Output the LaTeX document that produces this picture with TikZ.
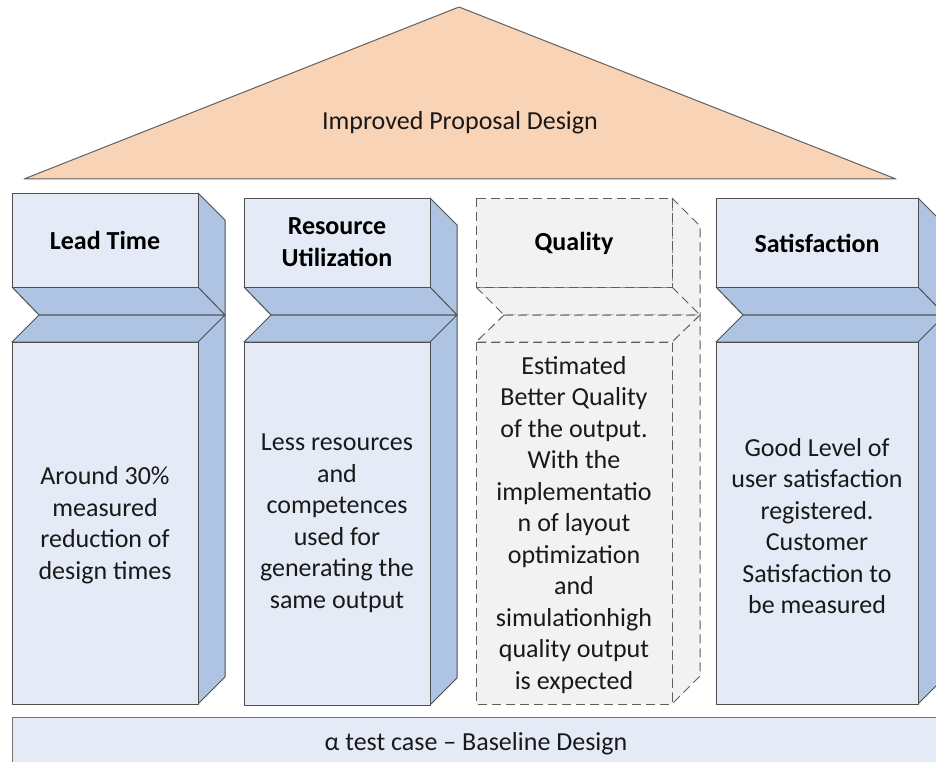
\documentclass[tikz,border=0pt]{standalone}
\usepackage{fontspec}
\setmainfont{Carlito}
\definecolor{frontc}{HTML}{E4EBF6}
\definecolor{sidec}{HTML}{AFC3E2}
\definecolor{edgec}{HTML}{4F4F4F}
\definecolor{greyc}{HTML}{F2F2F2}
\definecolor{dashc}{HTML}{5E5E5E}
\definecolor{roofc}{HTML}{F9D3B6}
\tikzset{
  front/.style={fill=frontc,draw=edgec,line width=1pt,line join=round},
  side/.style={fill=sidec,draw=edgec,line width=1pt,line join=round},
  qfront/.style={fill=greyc,draw=dashc,line width=1pt,dash pattern=on 9pt off 5pt,line join=round},
  qside/.style={fill=greyc,draw=dashc,line width=1pt,dash pattern=on 9pt off 5pt,line join=round},
  txt/.style={align=center,font=\fontsize{26}{31.5}\selectfont,text=black!90,inner sep=0pt},
  head/.style={align=center,font=\fontsize{26}{31.5}\selectfont\bfseries,text=black,inner sep=0pt},
}
% pillar macro: #1 L, #2 R, #3 T, #4 B, #5 d, #6 front style, #7 side style
\newcommand{\mypillar}[7]{%
  \path[#7] (#2,#3) -- (#2+#5,#3+#5) -- (#2+#5,#4-#5) -- (#2,#4) -- cycle;
  \path[#7] (#1,287) -- (#2,287) -- (#2+#5,315) -- (#1+#5,315) -- cycle;
  \path[#7] (#1+#5,315) -- (#2+#5,315) -- (#2,342) -- (#1,342) -- cycle;
  \path[#6] (#1,#3) rectangle (#2,287);
  \path[#6] (#1,342) rectangle (#2,#4);
}
\begin{document}
\begin{tikzpicture}[x=1pt,y=-1pt]
\useasboundingbox (0,0) rectangle (936,762);
\clip (0,0) rectangle (936,762);
% roof
\path[fill=roofc,draw=edgec!90,line width=1pt,line join=round] (24,179) -- (459,7) -- (896,179) -- cycle;
\node[txt] (roof) at (460,123) {Improved Proposal Design};
% pillars
\mypillar{12}{198}{193}{704}{27}{front}{side}
\mypillar{244}{430}{198}{705}{27}{front}{side}
\mypillar{476}{672}{198}{704}{28}{qfront}{qside}
\mypillar{716}{918}{198}{704}{27}{front}{side}
% headings
\node[head] (h1) at (105,240) {Lead Time};
\node[head] (h2) at (337,242) {Resource\\Utilization};
\node[head] (h3) at (574,243) {Quality};
\node[head] (h4) at (817,243) {Satisfaction};
% bodies
\node[txt] (b1) at (105,525) {Around 30\%\\measured\\reduction of\\design times};
\node[txt] (b2) at (337,523) {Less resources\\and\\competences\\used for\\generating the\\same output};
\node[txt] (b3) at (574,525) {Estimated\\Better Quality\\of the output.\\With the\\implementatio\\n of layout\\optimization\\and\\simulationhigh\\quality output\\is expected};
\node[txt] (b4) at (817,526) {Good Level of\\user satisfaction\\registered.\\Customer\\Satisfaction to\\be measured};
% base
\path[front,draw=edgec!80] (12,717) rectangle (950,780);
\node[txt] (base) at (476,744) {α test case – Baseline Design};
\end{tikzpicture}
\end{document}
